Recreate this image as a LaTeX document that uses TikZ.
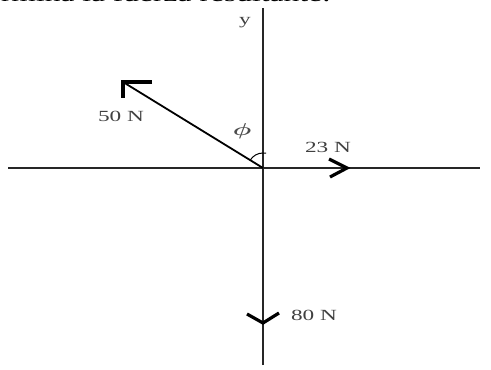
\documentclass[tikz,border=0pt]{standalone}
\usepackage{amsmath,amssymb}
\usepackage{fontspec}
\setmainfont{Liberation Serif}
\usetikzlibrary{arrows.meta}

\begin{document}
\begin{tikzpicture}[x=1pt,y=1pt,
  axisline/.style={line width=1.3pt,black!85},
  vec/.style={line width=1.8pt,black},
  head/.style={line width=3.2pt,black,line join=miter},
  lbl/.style={font=\fontsize{15.5}{17}\selectfont,text=black!75,xscale=1.5,inner sep=1pt}]
\useasboundingbox (0,0) rectangle (491,-370);
\node[anchor=base east,font=\fontsize{21}{24}\selectfont,xscale=1.5,inner sep=0pt] (title) at (331,-1) {Determina la fuerza resultante:};
% ejes
\coordinate (O) at (263,-168);
\coordinate (ytop) at (263,-8);
\coordinate (ybot) at (263,-365);
\coordinate (xleft) at (8,-168);
\coordinate (xright) at (480,-168);
\draw[axisline] (ybot) -- (ytop);
\draw[axisline] (xleft) -- (xright);
\node[lbl] (ylab) at (245,-23) {y};
% fuerzas
\coordinate (F1) at (123,-82);
\coordinate (F2) at (347,-168);
\coordinate (F3) at (263,-323);
\draw[vec] (O) -- (F1);
\draw[head] ([xshift=29pt]F1) -- (F1) -- ([yshift=-16pt]F1);
\draw[head] ([xshift=-18pt,yshift=9pt]F2) -- (F2) -- ([xshift=-17pt,yshift=-9pt]F2);
\draw[head] ([xshift=-16pt,yshift=9pt]F3) -- (F3) -- ([xshift=16pt,yshift=10pt]F3);
\node[lbl] (f1lab) at (121,-116) {50 N};
\node[lbl] (f2lab) at (328,-147) {23 N};
\node[lbl] (f3lab) at (314,-315) {80 N};
% angulo
\draw[line width=1pt] (O) ++(148.4:15) arc[start angle=148.4,end angle=90,radius=15] -- ++(3,0);
\node[lbl,font=\fontsize{19}{20}\selectfont,xscale=1,text=black!70] (philab) at (242,-131) {$\boldsymbol{\phi}$};
\end{tikzpicture}
\end{document}
